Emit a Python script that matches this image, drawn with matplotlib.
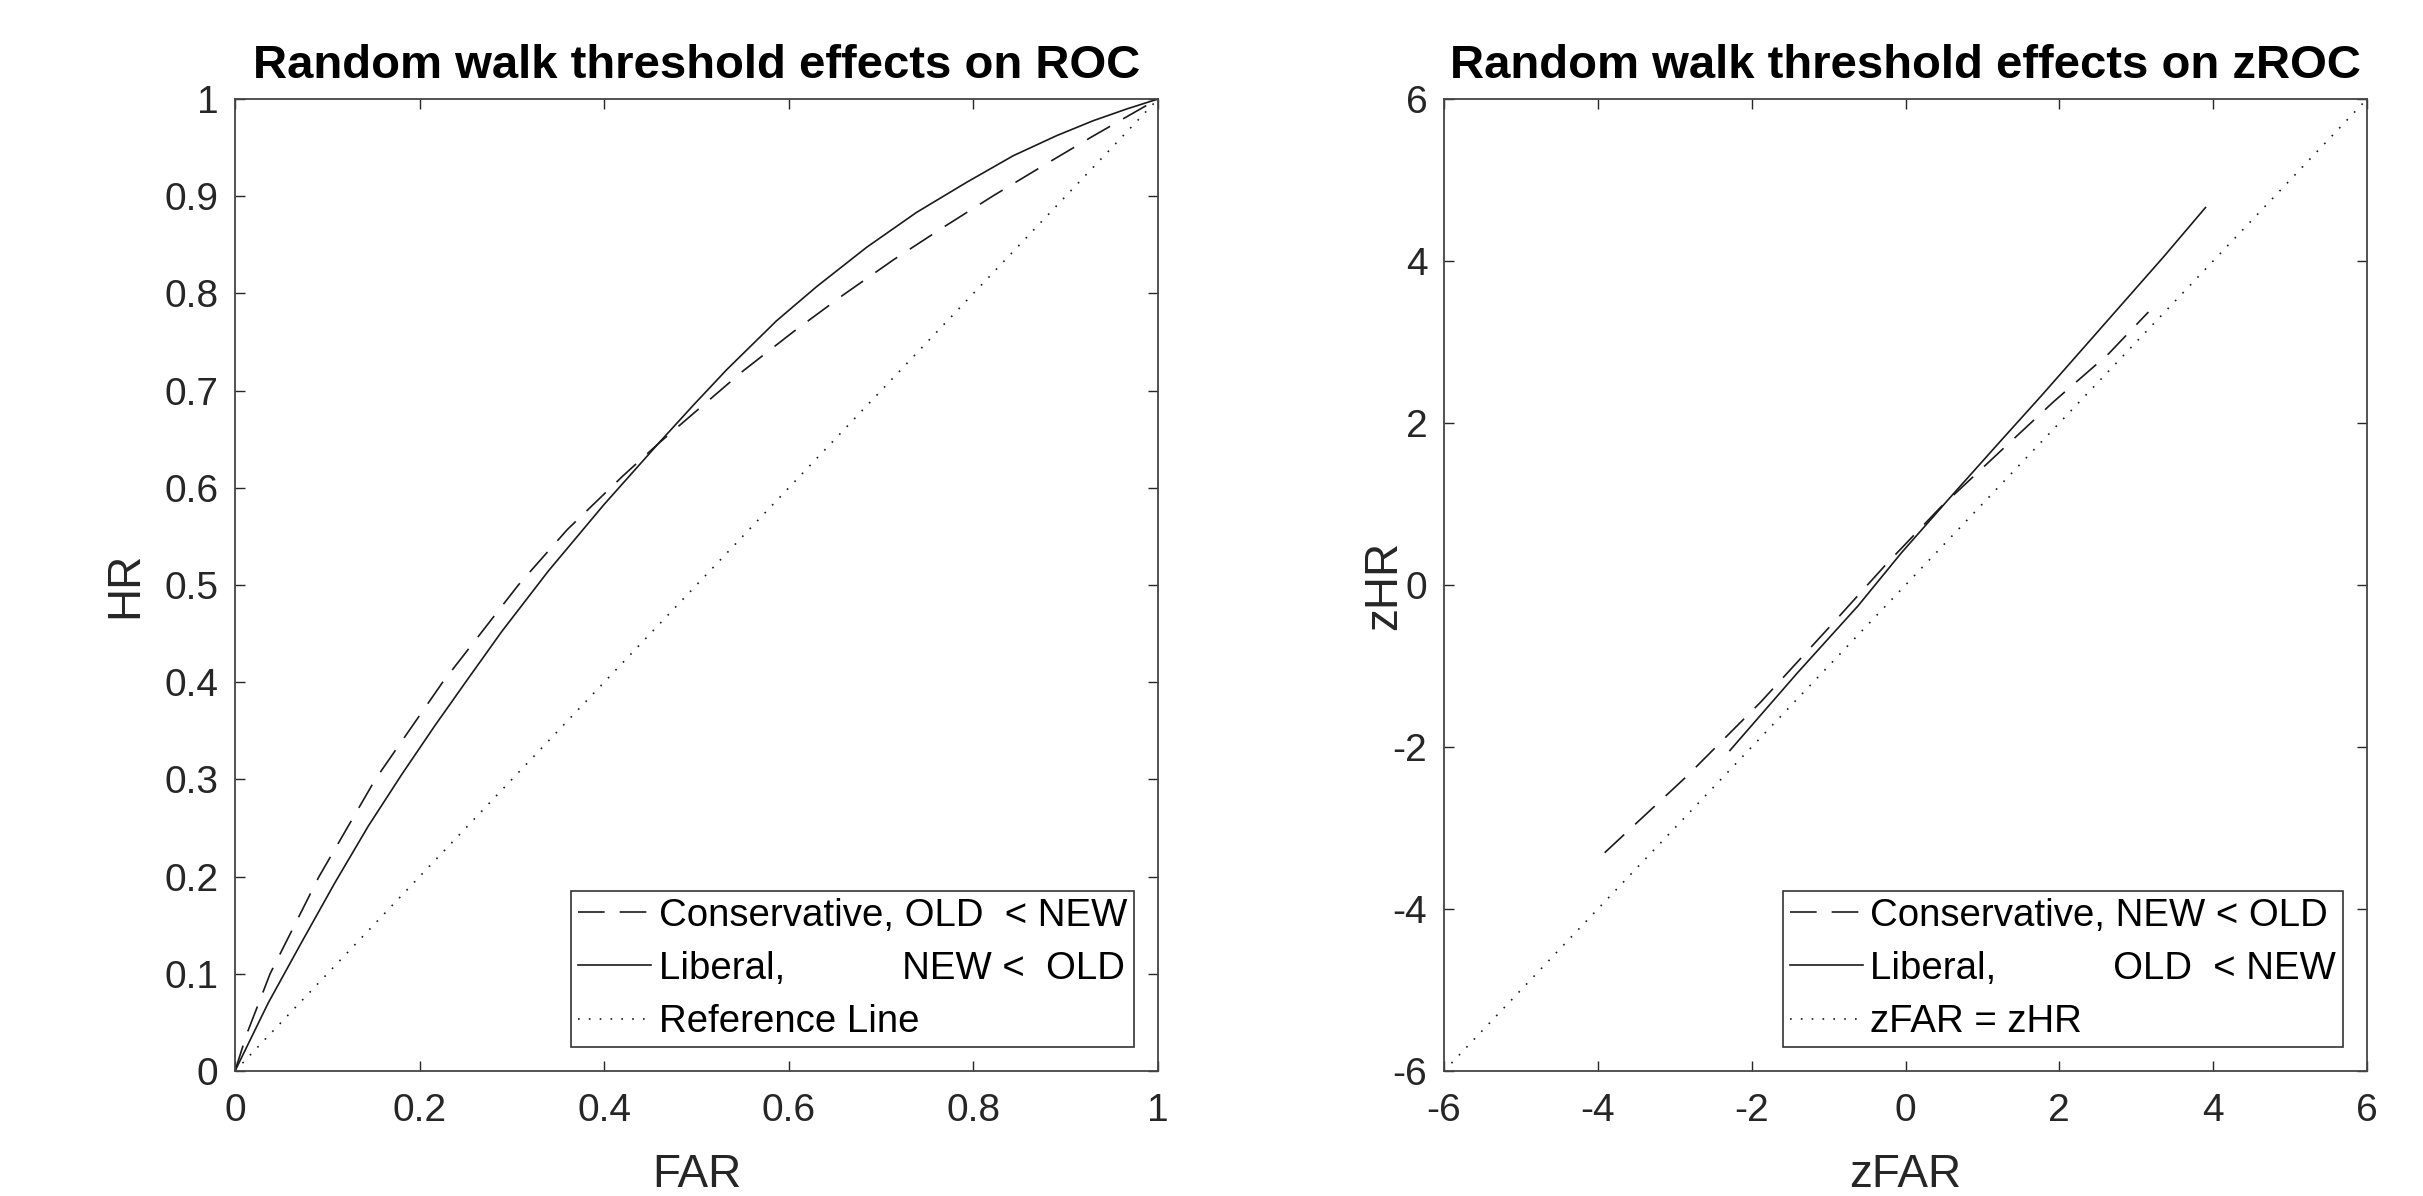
import matplotlib
matplotlib.use("Agg")
import matplotlib.pyplot as plt

# ---------------- data ----------------
roc_title = "Random walk threshold effects on ROC"
zroc_title = "Random walk threshold effects on zROC"

# ROC, conservative (dashed)
cons_far = [0, 0.0126, 0.038, 0.091, 0.152, 0.225, 0.307, 0.36, 0.42, 0.4605,
            0.5508, 0.6049, 0.6591, 0.7133, 0.7674, 0.8216, 0.8758, 0.9299, 0.9841, 1.0]
cons_hr = [0, 0.0377, 0.1, 0.2, 0.3, 0.4, 0.5, 0.557, 0.612, 0.647,
           0.7205, 0.7605, 0.7985, 0.8345, 0.8680, 0.9005, 0.9315, 0.9620, 0.9915, 1.0]

# ROC, liberal (solid)
lib_far = [0, 0.036, 0.0722, 0.1083, 0.1445, 0.1806, 0.2167, 0.2528, 0.2889, 0.3395,
           0.40, 0.4605, 0.4966, 0.5327, 0.5868, 0.6302, 0.6843, 0.7385, 0.7927,
           0.8433, 0.8902, 0.9299, 0.9660, 1.0]
lib_hr = [0, 0.070, 0.1325, 0.1938, 0.2521, 0.3050, 0.3555, 0.4040, 0.4520, 0.5144,
          0.583, 0.6475, 0.6850, 0.7215, 0.7719, 0.8070, 0.8474, 0.8834, 0.9143,
          0.9417, 0.9623, 0.9777, 0.9897, 1.0]

ref_far = [0, 1]
ref_hr = [0, 1]

# zROC, conservative (dashed)
zcons_far = [-3.911, -2.839, -1.886, -0.933, -0.257, 0.457, 1.212, 1.927, 2.642, 3.158]
zcons_hr = [-3.305, -2.357, -1.449, -0.461, 0.250, 0.961, 1.632, 2.264, 2.856, 3.370]

# zROC, liberal (solid)
zlib_far = [-2.283, -1.409, -0.615, -0.059, 0.577, 1.212, 1.768, 2.562, 3.357, 3.90]
zlib_hr = [-2.043, -1.089, -0.255, 0.391, 1.077, 1.752, 2.338, 3.195, 4.053, 4.66]

zref = [-6, 6]

roc_xticks = [0, 0.2, 0.4, 0.6, 0.8, 1]
roc_xticklabels = ["0", "0.2", "0.4", "0.6", "0.8", "1"]
roc_yticks = [0, 0.1, 0.2, 0.3, 0.4, 0.5, 0.6, 0.7, 0.8, 0.9, 1]
roc_yticklabels = ["0", "0.1", "0.2", "0.3", "0.4", "0.5", "0.6", "0.7", "0.8", "0.9", "1"]
z_ticks = [-6, -4, -2, 0, 2, 4, 6]
z_ticklabels = ["-6", "-4", "-2", "0", "2", "4", "6"]

roc_labels = ["Conservative, OLD  < NEW", "Liberal,           NEW <  OLD", "Reference Line"]
zroc_labels = ["Conservative, NEW < OLD", "Liberal,           OLD  < NEW", "zFAR = zHR"]

# ---------------- style ----------------
plt.rcParams['font.family'] = ['Liberation Sans', 'DejaVu Sans']
W, H = 2423, 1196
fig = plt.figure(figsize=(W / 100, H / 100), dpi=100)

axcol = '#262626'
linecol = '#1a1a1a'
TICK_FS = 28
LABEL_FS = 33
TITLE_FS = 34
LEG_FS = 27.6
LW = 1.2
dash = (16, 9)
dot = (1.0, 5.5)


def setup(ax, title, xlabel, ylabel, ylabelpad):
    for s in ax.spines.values():
        s.set_color('#444444')
        s.set_linewidth(1.3)
    ax.tick_params(direction='in', length=7, width=1.0, colors=axcol,
                   top=True, right=True, labelsize=TICK_FS)
    ax.tick_params(axis='x', pad=16)
    ax.tick_params(axis='y', pad=12)
    ax.set_title(title, fontsize=TITLE_FS, fontweight='bold', pad=15, color='black')
    ax.set_xlabel(xlabel, fontsize=LABEL_FS, color=axcol, labelpad=17)
    ax.set_ylabel(ylabel, fontsize=LABEL_FS, color=axcol, labelpad=ylabelpad)


def legend(ax, handles, labels):
    leg = ax.legend(handles, labels, loc='lower right',
                    bbox_to_anchor=(0.974, 0.0247), fontsize=LEG_FS, frameon=True,
                    fancybox=False, edgecolor='#333333', framealpha=1,
                    handlelength=1.9, handletextpad=0.2, labelspacing=0.45,
                    borderpad=0.18, borderaxespad=0)
    leg.get_frame().set_linewidth(1.2)
    return leg


ax1 = fig.add_axes([235 / W, (H - 1071) / H, 923 / W, 972 / H])
l1, = ax1.plot(cons_far, cons_hr, color=linecol, lw=LW, dashes=dash)
l2, = ax1.plot(lib_far, lib_hr, color=linecol, lw=LW)
l3, = ax1.plot(ref_far, ref_hr, color=linecol, lw=LW, dashes=dot)
ax1.set_xlim(0, 1)
ax1.set_ylim(0, 1)
ax1.set_xticks(roc_xticks)
ax1.set_xticklabels(roc_xticklabels)
ax1.set_yticks(roc_yticks)
ax1.set_yticklabels(roc_yticklabels)
setup(ax1, roc_title, "FAR", "HR", 12)
legend(ax1, [l1, l2, l3], roc_labels)

ax2 = fig.add_axes([1444 / W, (H - 1071) / H, 923 / W, 972 / H])
m1, = ax2.plot(zcons_far, zcons_hr, color=linecol, lw=LW, dashes=dash)
m2, = ax2.plot(zlib_far, zlib_hr, color=linecol, lw=LW)
m3, = ax2.plot(zref, zref, color=linecol, lw=LW, dashes=dot)
ax2.set_xlim(-6, 6)
ax2.set_ylim(-6, 6)
ax2.set_xticks(z_ticks)
ax2.set_xticklabels(z_ticklabels)
ax2.set_yticks(z_ticks)
ax2.set_yticklabels(z_ticklabels)
setup(ax2, zroc_title, "zFAR", "zHR", -10)
legend(ax2, [m1, m2, m3], zroc_labels)

fig.savefig("out.png", dpi=100, facecolor='white')
